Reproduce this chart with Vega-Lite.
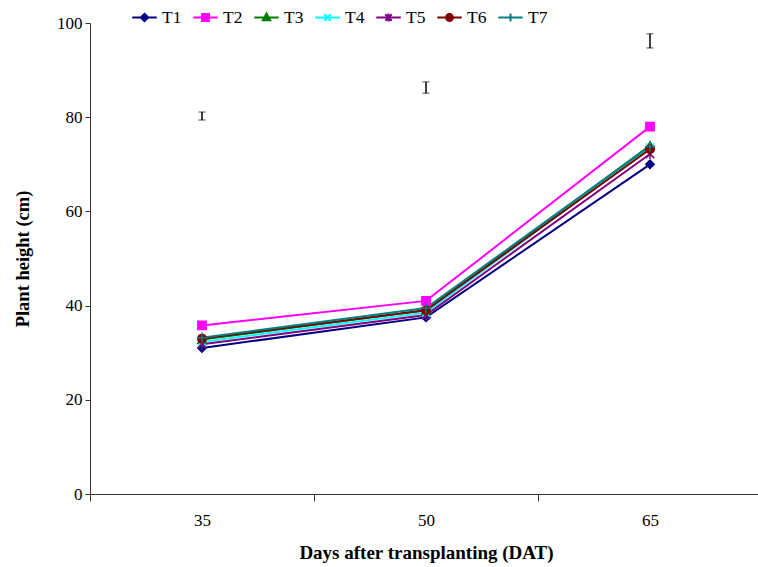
{
  "$schema": "https://vega.github.io/schema/vega-lite/v6.json",
  "width": 668,
  "height": 471,
  "autosize": {"type": "none"},
  "padding": {"left": 90, "top": 23, "right": 0, "bottom": 73},
  "background": "white",
  "config": {
    "view": {"stroke": null},
    "font": "Liberation Serif",
    "axis": {"grid": false, "domainColor": "#333333", "tickColor": "#333333", "labelColor": "black", "titleColor": "black", "labelFont": "Liberation Serif", "titleFont": "Liberation Serif", "labelFontSize": 17, "titleFontSize": 18.5, "titleFontWeight": "bold"}
  },
  "datasets": {
    "heights": [
      {"day": "35", "series": "T1", "height": 31.0},
      {"day": "35", "series": "T2", "height": 35.8},
      {"day": "35", "series": "T3", "height": 32.8},
      {"day": "35", "series": "T4", "height": 32.3},
      {"day": "35", "series": "T5", "height": 31.8},
      {"day": "35", "series": "T6", "height": 33.0},
      {"day": "35", "series": "T7", "height": 33.2},
      {"day": "50", "series": "T1", "height": 37.5},
      {"day": "50", "series": "T2", "height": 41.0},
      {"day": "50", "series": "T3", "height": 39.0},
      {"day": "50", "series": "T4", "height": 38.5},
      {"day": "50", "series": "T5", "height": 38.0},
      {"day": "50", "series": "T6", "height": 39.0},
      {"day": "50", "series": "T7", "height": 39.5},
      {"day": "65", "series": "T1", "height": 70.0},
      {"day": "65", "series": "T2", "height": 78.0},
      {"day": "65", "series": "T3", "height": 74.0},
      {"day": "65", "series": "T4", "height": 73.6},
      {"day": "65", "series": "T5", "height": 72.2},
      {"day": "65", "series": "T6", "height": 73.2},
      {"day": "65", "series": "T7", "height": 73.8}
    ],
    "errs": [
      {"day": "35", "lo": 79.4, "hi": 81.1},
      {"day": "50", "lo": 85.1, "hi": 87.5},
      {"day": "65", "lo": 94.7, "hi": 97.7}
    ]
  },
  "encoding": {
    "x": {"field": "day", "type": "nominal", "sort": ["35", "50", "65"],
      "scale": {"type": "band", "domain": ["35", "50", "65"], "range": [0, 672], "paddingInner": 0, "paddingOuter": 0},
      "axis": {"title": "Days after transplanting (DAT)", "titleFontSize": 19, "labelAngle": 0, "tickBand": "extent", "tickSize": 7, "labelPadding": 11, "titlePadding": 15, "domainWidth": 1}
    }
  },
  "layer": [
    {
      "data": {"name": "errs"},
      "mark": {"type": "errorbar", "ticks": {"size": 7, "color": "black", "strokeWidth": 1.8}, "rule": {"color": "black", "strokeWidth": 1.5}},
      "encoding": {
        "y": {"field": "lo", "type": "quantitative", "scale": {"domain": [0, 100], "nice": false}, "axis": {"title": "Plant height (cm)", "values": [0, 20, 40, 60, 80, 100], "tickSize": 5, "labelPadding": 3, "titlePadding": 24}},
        "y2": {"field": "hi"}
      }
    },
    {
      "data": {"name": "heights"},
      "mark": {"type": "line", "strokeWidth": 2},
      "encoding": {
        "y": {"field": "height", "type": "quantitative"},
        "color": {"field": "series", "type": "nominal", "legend": null,
          "scale": {"domain": ["T1", "T2", "T3", "T4", "T5", "T6", "T7"], "range": ["#000080", "#FF00FF", "#008000", "#00FFFF", "#800080", "#800000", "#008080"]}}
      }
    },
    {
      "data": {"name": "heights"},
      "mark": {"type": "point", "filled": true, "opacity": 1, "size": 70, "strokeWidth": 1.5},
      "encoding": {
        "y": {"field": "height", "type": "quantitative"},
        "fill": {"field": "series", "type": "nominal", "legend": null,
          "scale": {"domain": ["T1", "T2", "T3", "T4", "T5", "T6", "T7"], "range": ["#000080", "#FF00FF", "#008000", "#00FFFF", "#800080", "#800000", "#008080"]}},
        "stroke": {"field": "series", "type": "nominal", "legend": null,
          "scale": {"domain": ["T1", "T2", "T3", "T4", "T5", "T6", "T7"], "range": ["#000080", "#FF00FF", "#008000", "#00FFFF", "#800080", "#800000", "#008080"]}},
        "shape": {"field": "series", "type": "nominal", "legend": null,
          "scale": {"domain": ["T1", "T2", "T3", "T4", "T5", "T6", "T7"], "range": ["diamond", "square", "triangle-up", "M-1,-1L1,1M-1,1L1,-1", "M-1,-1L1,1M-1,1L1,-1M0,-1.2L0,1.2", "circle", "M-1.2,0L1.2,0M0,-1.2L0,1.2"]}}
      }
    },
    {
      "data": {"name": "heights"},
      "mark": {"type": "point", "filled": true, "opacity": 0, "size": 10},
      "encoding": {
        "y": {"field": "height", "type": "quantitative"},
        "fill": {"field": "series", "type": "nominal",
          "scale": {"domain": ["T1", "T2", "T3", "T4", "T5", "T6", "T7"], "range": ["#000080", "#FF00FF", "#008000", "#00FFFF", "#800080", "#800000", "#008080"]},
          "legend": {"title": null, "orient": "none", "legendX": 41, "legendY": -19, "direction": "horizontal", "columns": 7, "symbolSize": 600, "symbolStrokeWidth": 2, "symbolOpacity": 1, "labelFont": "Liberation Serif", "labelFontSize": 17.5, "labelColor": "black", "labelOffset": 4, "columnPadding": 7}},
        "stroke": {"field": "series", "type": "nominal",
          "scale": {"domain": ["T1", "T2", "T3", "T4", "T5", "T6", "T7"], "range": ["#000080", "#FF00FF", "#008000", "#00FFFF", "#800080", "#800000", "#008080"]},
          "legend": {"title": null, "orient": "none", "legendX": 41, "legendY": -19, "direction": "horizontal", "columns": 7, "symbolSize": 600, "symbolStrokeWidth": 2, "symbolOpacity": 1, "labelFont": "Liberation Serif", "labelFontSize": 17.5, "labelColor": "black", "labelOffset": 4, "columnPadding": 7}},
        "shape": {"field": "series", "type": "nominal",
          "scale": {"domain": ["T1", "T2", "T3", "T4", "T5", "T6", "T7"], "range": [
            "M-1,0H1M0,-0.3L0.3,0L0,0.3L-0.3,0Z",
            "M-1,0H1M-0.28,-0.28H0.28V0.28H-0.28Z",
            "M-1,0H1M0,-0.32L0.3,0.22H-0.3Z",
            "M-1,0H1M-0.26,-0.26L0.26,0.26M-0.26,0.26L0.26,-0.26",
            "M-1,0H1M-0.26,-0.26L0.26,0.26M-0.26,0.26L0.26,-0.26M0,-0.32V0.32",
            "M-1,0H1M-0.28,0A0.28,0.28 0 1,0 0.28,0A0.28,0.28 0 1,0 -0.28,0Z",
            "M-1,0H1M0,-0.32V0.32"
          ]},
          "legend": {"title": null, "orient": "none", "legendX": 41, "legendY": -19, "direction": "horizontal", "columns": 7, "symbolSize": 600, "symbolStrokeWidth": 2, "symbolOpacity": 1, "labelFont": "Liberation Serif", "labelFontSize": 17.5, "labelColor": "black", "labelOffset": 4, "columnPadding": 7}}
      }
    }
  ],
  "resolve": {"scale": {"fill": "independent", "stroke": "independent", "shape": "independent"}}
}
